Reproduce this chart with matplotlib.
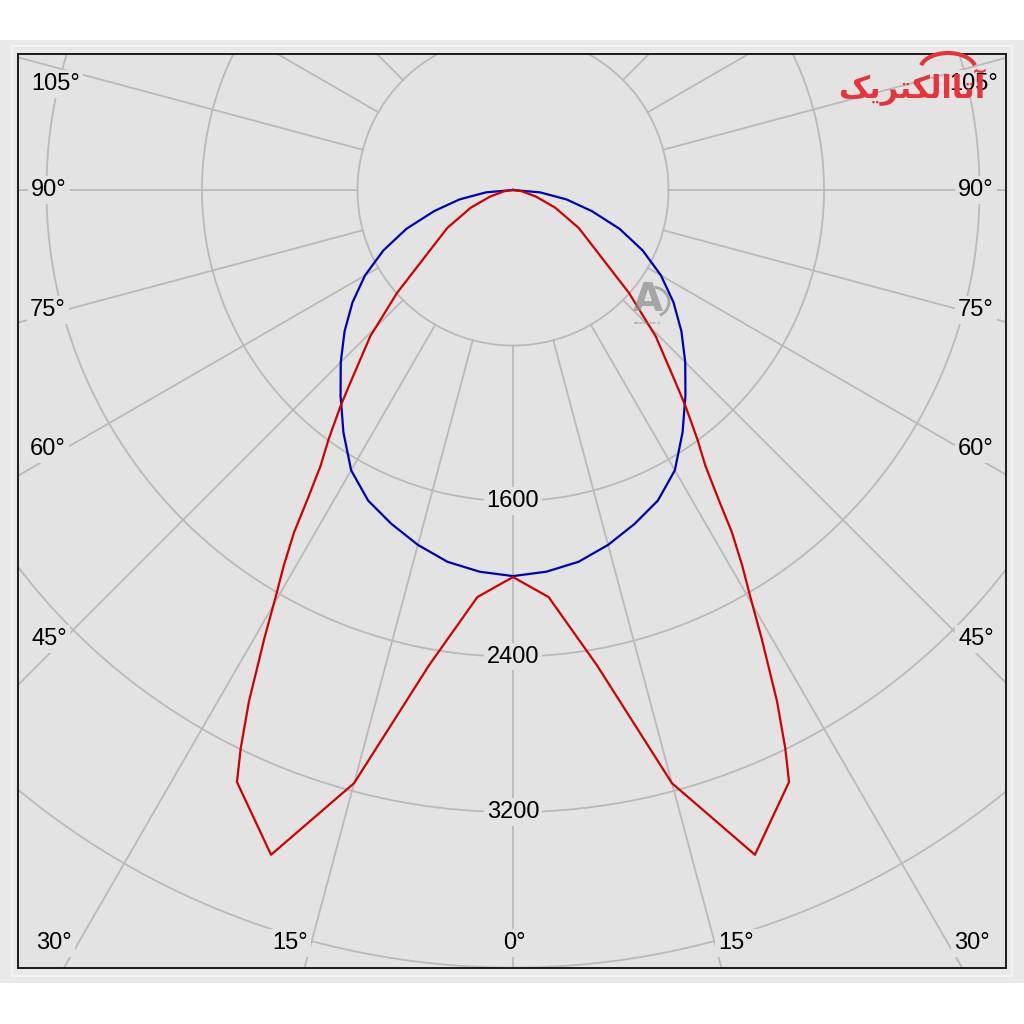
import numpy as np
import matplotlib.pyplot as plt
from matplotlib.patches import Rectangle, Arc

# luminous intensity (cd) vs angle from nadir (deg), symmetric planes
# C0-C180 plane (red)
red_angles = [0, 5, 10, 15, 20, 25, 26, 27.3, 29, 30.3, 31.4, 32.6, 33.6, 34.9,
              36.5, 38.6, 40.2, 44.3, 48.4, 54.1, 60, 67.3, 74, 82, 90]
red_cd = [1991, 2102, 2481, 3159, 3639, 3360, 3195, 2962, 2639, 2416, 2263, 2090, 1910, 1730,
          1594, 1422, 1295, 1051, 798, 525, 390, 235, 123, 45, 0]

# C90-C270 plane (blue)
blue_angles = [0, 5, 10, 15, 20, 25, 30, 35, 40, 45, 50, 55, 60, 65, 70, 75, 80, 85, 90]
blue_cd = [1986, 1971, 1942, 1890, 1828, 1763, 1665, 1521, 1380, 1253, 1131, 1008, 879, 736,
           583, 420, 280, 140, 0]

ring_values = [800, 1600, 2400, 3200, 4000, 4800]
ring_labels = [1600, 2400, 3200]
spoke_angles = list(range(0, 360, 15))

# angle labels: (text, x px, y px) in the 1024 px picture
angle_labels = [
    ("105°", 56, 84), ("90°", 49, 190), ("75°", 48, 310), ("60°", 48, 449), ("45°", 49, 639),
    ("30°", 54, 943), ("15°", 290, 943), ("0°", 514, 943), ("15°", 736, 943), ("30°", 972, 943),
    ("45°", 976, 639), ("60°", 976, 449), ("75°", 976, 310), ("90°", 976, 190), ("105°", 974, 84),
]

BG_IN = '#e3e3e3'
BG_OUT = '#e9e9e9'
GRID = '#b9b9b9'
FONT = 'Liberation Sans'
FS = 17

# pixel geometry of the reference
CX, CY = 513, 190          # pole position
PX_PER_CD = 0.1944
L, R, T, B = 18, 1006, 54, 968

fig = plt.figure(figsize=(10.24, 10.24), dpi=100, facecolor='white')

# outer grey panel
fig.patches.append(Rectangle((0, 1 - 983 / 1024), 1, (983 - 40) / 1024, transform=fig.transFigure,
                             facecolor=BG_OUT, edgecolor='none', zorder=-2))
fig.patches.append(Rectangle((12 / 1024, 1 - 976 / 1024), (1012 - 12) / 1024, (976 - 46) / 1024,
                             transform=fig.transFigure, facecolor='none', edgecolor='#f6f6f6',
                             lw=1.2, zorder=-1))

ax = fig.add_axes([L / 1024, 1 - B / 1024, (R - L) / 1024, (B - T) / 1024])
ax.set_facecolor(BG_IN)
ax.set_xlim((L - CX) / PX_PER_CD, (R - CX) / PX_PER_CD)
ax.set_ylim((CY - B) / PX_PER_CD, (CY - T) / PX_PER_CD)
ax.set_xticks([])
ax.set_yticks([])
for s in ax.spines.values():
    s.set_color('#1a1a1a')
    s.set_linewidth(1.4)

# grid rings and spokes
t = np.linspace(0, 2 * np.pi, 721)
for rv in ring_values:
    ax.plot(rv * np.cos(t), rv * np.sin(t), color=GRID, lw=1.3, zorder=1)
for a in spoke_angles:
    th = np.radians(a)
    ax.plot([800 * np.sin(th), 8000 * np.sin(th)], [-800 * np.cos(th), -8000 * np.cos(th)],
            color=GRID, lw=1.3, zorder=1)

for rv in ring_labels:
    ax.text(0, -rv, str(rv), ha='center', va='center', fontsize=FS, family=FONT, color='black',
            zorder=2, bbox=dict(boxstyle='square,pad=0.12', fc=BG_IN, ec='none'))


def curve(angles, values):
    a = np.radians(np.asarray(angles, float))
    v = np.asarray(values, float)
    th = np.concatenate([-a[::-1], a[1:]])
    r = np.concatenate([v[::-1], v[1:]])
    return r * np.sin(th), -r * np.cos(th)


x, y = curve(blue_angles, blue_cd)
ax.plot(x, y, color='#0000b4', lw=1.6, zorder=3)
x, y = curve(red_angles, red_cd)
ax.plot(x, y, color='#d00000', lw=1.6, zorder=4)

for txt, px, py in angle_labels:
    fig.text(px / 1024, 1 - py / 1024, txt, ha='center', va='center', fontsize=FS, family=FONT,
             color='black', zorder=5, bbox=dict(boxstyle='square,pad=0.12', fc=BG_IN, ec='none'))

# watermarks
fig.text(648 / 1024, 1 - 300 / 1024, "A", ha='center', va='center', fontsize=28, weight='bold',
         color='#8c8c8c', alpha=0.7, family='DejaVu Sans', zorder=6)
fig.patches.append(Arc((652 / 1024, 1 - 302 / 1024), 34 / 1024, 30 / 1024, theta1=-60, theta2=80,
                       transform=fig.transFigure, color='#8c8c8c', alpha=0.7, lw=2, zorder=6))
fig.text(648 / 1024, 1 - 323 / 1024, "artaelectric.ir", ha='center', va='center', fontsize=3,
         color='#8c8c8c', family='DejaVu Sans', zorder=6)
# "آتاالکتریک" written in presentation forms, visual order (matplotlib has no shaping)
logo = "\uFB8F\uFBFE\uFEAE\uFE98\uFB91\uFEDF\uFE8D\uFE8E\uFE97\uFE81"
fig.text(912 / 1024, 1 - 87 / 1024, logo, ha='center', va='center', fontsize=22, weight='bold',
         color='#e8333a', family='DejaVu Sans', zorder=7)
fig.patches.append(Arc((948 / 1024, 1 - 70 / 1024), 56 / 1024, 34 / 1024, theta1=10, theta2=170,
                       transform=fig.transFigure, color='#e8333a', lw=3, zorder=7))

fig.savefig('out.png', dpi=100, facecolor='white')
